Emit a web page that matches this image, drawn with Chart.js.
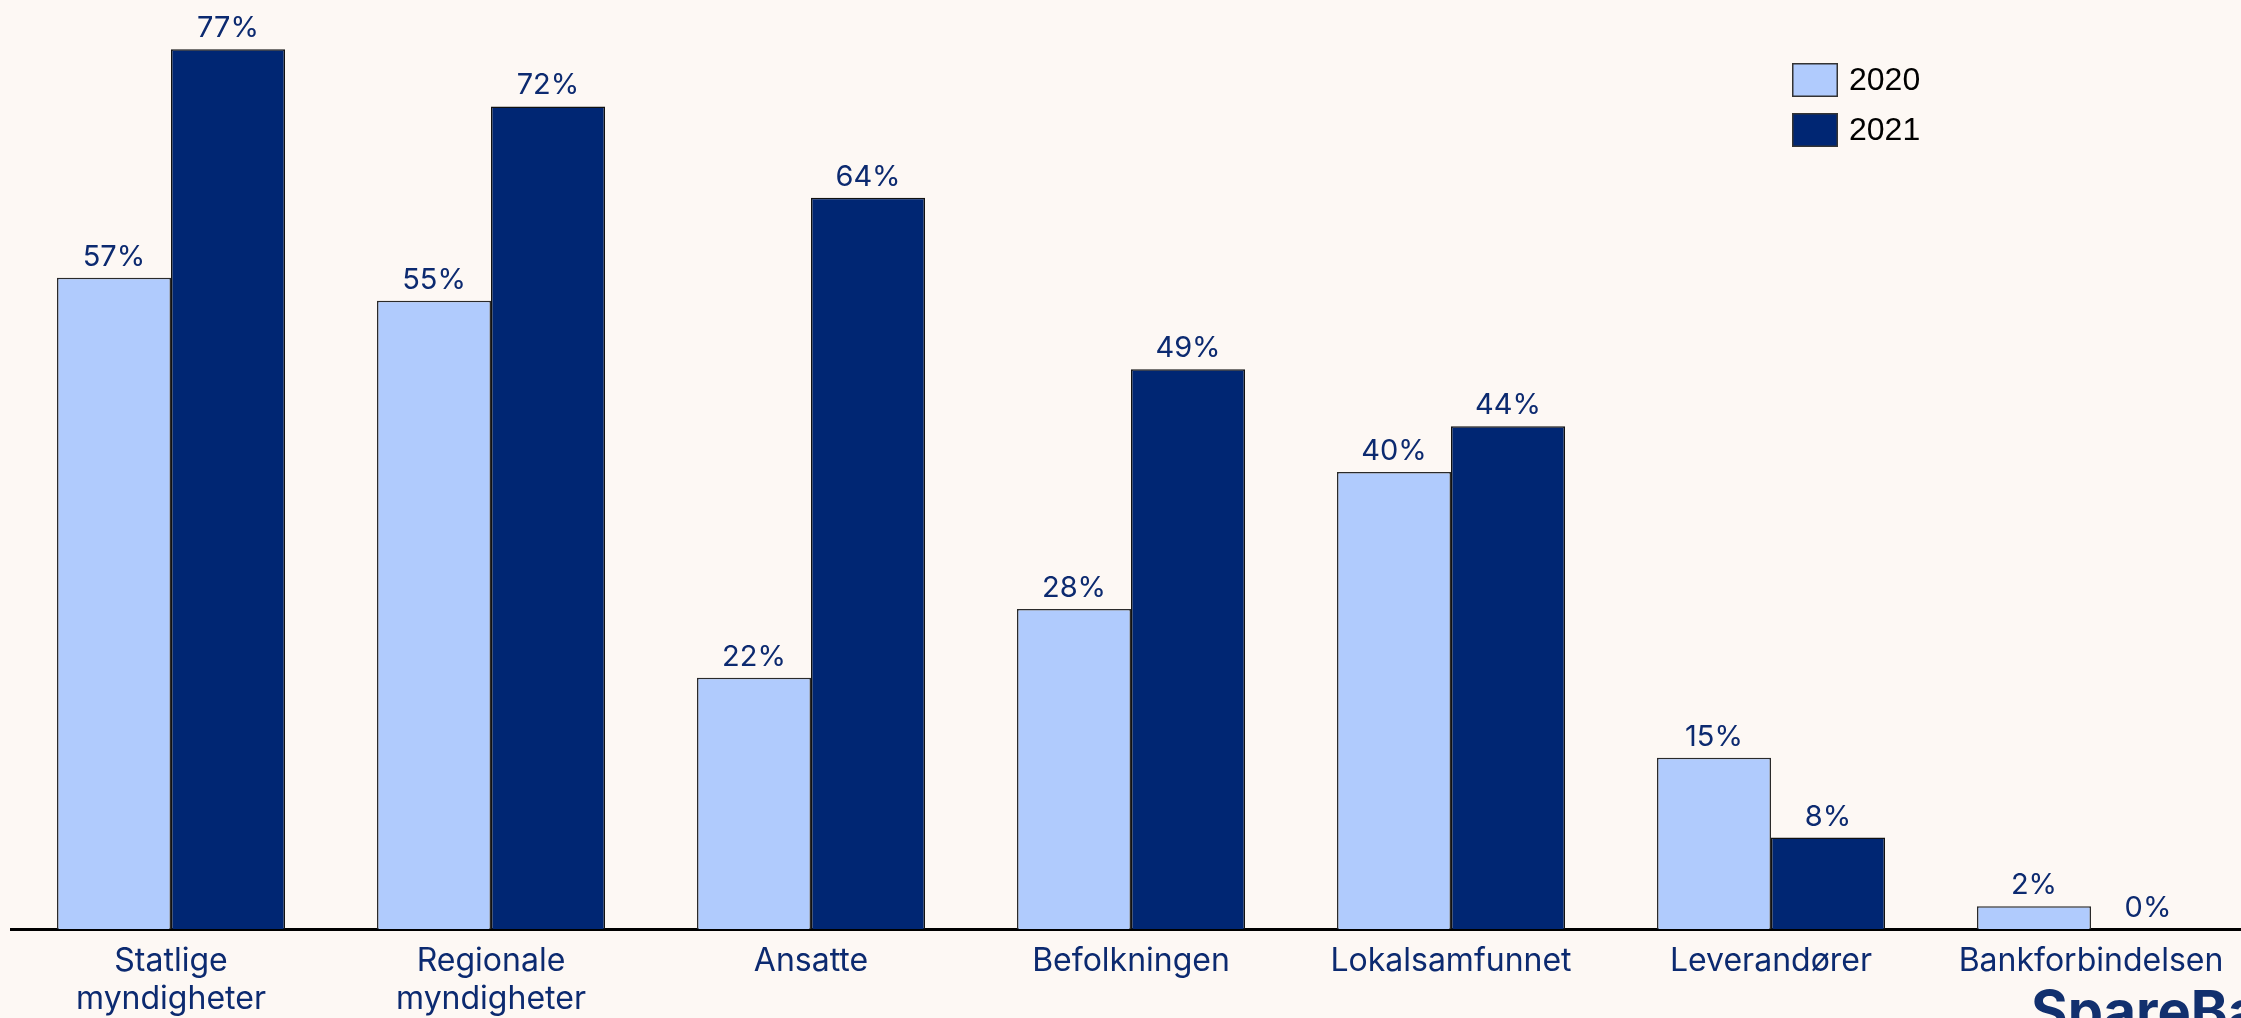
<!DOCTYPE html>
<html>
<head>
<meta charset="utf-8">
<script src="https://cdn.jsdelivr.net/npm/chart.js@4.4.1/dist/chart.umd.min.js"></script>
<style>
  html, body { margin: 0; padding: 0; background: #fdf8f4; overflow: hidden; }
  #wrap { width: 2262px; height: 1018px; position: relative; }
</style>
</head>
<body>
<div id="wrap"><canvas id="c" width="2262" height="1018"></canvas></div>
<script>
const categories = [
  ['Statlige', 'myndigheter'],
  ['Regionale', 'myndigheter'],
  'Ansatte',
  'Befolkningen',
  'Lokalsamfunnet',
  'Leverandører',
  'Bankforbindelsen'
];
const seriesNames = ['2020', '2021'];
const values2020 = [57, 55, 22, 28, 40, 15, 2];
const values2021 = [77, 72, 64, 49, 44, 8, 0];
const logoText = 'SpareBank';

const BG = '#fdf8f4';
const LIGHT = '#b0cbfd';
const NAVY = '#002673';
const TEXT = '#0c2a70';
const FONT = 'Inter, "Noto Sans", sans-serif';

const bgPlugin = {
  id: 'bg',
  beforeDraw(chart) {
    const ctx = chart.ctx;
    ctx.save();
    ctx.fillStyle = BG;
    ctx.fillRect(0, 0, chart.width, chart.height);
    ctx.restore();
  }
};

const valueLabels = {
  id: 'valueLabels',
  afterDatasetsDraw(chart) {
    const ctx = chart.ctx;
    ctx.save();
    ctx.font = '29px ' + FONT;
    ctx.fillStyle = TEXT;
    ctx.textAlign = 'center';
    ctx.textBaseline = 'alphabetic';
    chart.data.datasets.forEach((ds, di) => {
      chart.getDatasetMeta(di).data.forEach((bar, i) => {
        ctx.fillText(ds.data[i] + '%', bar.x, bar.y - 12);
      });
    });
    ctx.restore();
  }
};

const customLegend = {
  id: 'customLegend',
  afterDraw(chart) {
    const ctx = chart.ctx;
    ctx.save();
    const x = 1792, w = 46, h = 34, gap = 50;
    chart.data.datasets.forEach((ds, i) => {
      const y = 63 + i * gap;
      ctx.fillStyle = ds.backgroundColor;
      ctx.fillRect(x, y, w, h);
      ctx.strokeStyle = '#333';
      ctx.lineWidth = 1.5;
      ctx.strokeRect(x + 0.75, y + 0.75, w - 1.5, h - 1.5);
      ctx.fillStyle = '#000';
      ctx.font = '32px "Liberation Sans", Arial, sans-serif';
      ctx.textAlign = 'left';
      ctx.textBaseline = 'middle';
      ctx.fillText(ds.label, x + 57, y + h / 2 + 1);
    });
    ctx.restore();
  }
};

const logo = {
  id: 'logo',
  afterDraw(chart) {
    const ctx = chart.ctx;
    ctx.save();
    ctx.font = 'bold 56px ' + FONT;
    ctx.fillStyle = '#12306e';
    ctx.textAlign = 'left';
    ctx.textBaseline = 'alphabetic';
    ctx.fillText(logoText, 2031, 1031);
    ctx.restore();
  }
};

new Chart(document.getElementById('c'), {
  type: 'bar',
  data: {
    labels: categories,
    datasets: [
      { label: seriesNames[0], data: values2020, backgroundColor: LIGHT, borderColor: '#2a2a2a', borderWidth: 1.5 },
      { label: seriesNames[1], data: values2021, backgroundColor: NAVY, borderColor: '#111', borderWidth: 1.5 }
    ]
  },
  options: {
    responsive: false,
    animation: false,
    devicePixelRatio: 1,
    layout: { padding: { top: 15, left: 11, right: 11, bottom: 0 } },
    plugins: { legend: { display: false }, tooltip: { enabled: false } },
    datasets: { bar: { categoryPercentage: 0.7125, barPercentage: 1.0 } },
    scales: {
      x: {
        grid: { display: false, drawTicks: false },
        border: { display: true, color: '#000', width: 3 },
        ticks: {
          color: TEXT,
          font: { family: FONT, size: 32, lineHeight: 1.2 },
          padding: 13,
          maxRotation: 0,
          autoSkip: false
        },
        afterFit(scale) { scale.height = 89; }
      },
      y: {
        display: false,
        min: 0,
        max: 80
      }
    }
  },
  plugins: [bgPlugin, valueLabels, customLegend, logo]
});
</script>
</body>
</html>
